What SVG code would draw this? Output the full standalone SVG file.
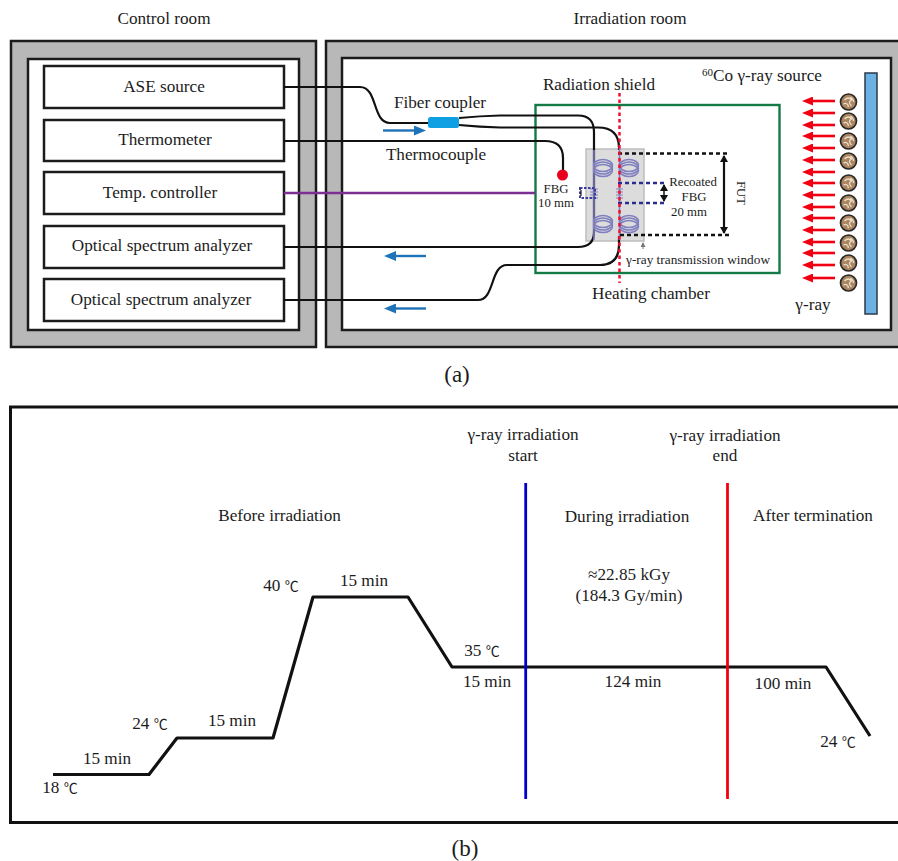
<svg xmlns="http://www.w3.org/2000/svg" width="898" height="861" viewBox="0 0 898 861" xmlns:xlink="http://www.w3.org/1999/xlink">
<style>
text{font-family:"Liberation Serif","Noto Sans CJK SC",serif;font-size:17.2px;fill:#1c1c1c;text-anchor:middle}
.s{font-size:12.8px}
.big{font-size:23px}
.deg{font-size:14px}
.wall{fill:#b7b8b7;stroke:#1c1c1c;stroke-width:2.5}
.inner{fill:#fff;stroke:#1c1c1c;stroke-width:2.5}
.box{fill:#fff;stroke:#1c1c1c;stroke-width:2.5}
.fiber{fill:none;stroke:#111;stroke-width:2.2}
.coil{fill:none;stroke:#8080c0;stroke-width:1.5}
.nd{fill:none;stroke:#2c2c90;stroke-width:2.4;stroke-dasharray:4 3}
.kd{fill:none;stroke:#111;stroke-width:2.4;stroke-dasharray:4 3}
.blue{stroke:#1f73b8;stroke-width:2.4;fill:none}
.ray{stroke:#f00012;stroke-width:2.6;fill:none}
.prof{fill:none;stroke:#111;stroke-width:3.2;stroke-linejoin:round}
</style>
<defs>
<marker id="bh" markerWidth="12" markerHeight="10" refX="1" refY="5" orient="auto" markerUnits="userSpaceOnUse"><path d="M0 0L12 5L0 10z" fill="#1f73b8"/></marker>
<marker id="rh" markerWidth="11" markerHeight="9" refX="1" refY="4.500" orient="auto" markerUnits="userSpaceOnUse"><path d="M0 0L11 4.500L0 9z" fill="#f00012"/></marker>
<marker id="ka" markerWidth="7" markerHeight="8" refX="6" refY="4" orient="auto-start-reverse" markerUnits="userSpaceOnUse"><path d="M0 0L7 4L0 8z" fill="#111"/></marker>
<marker id="ga" markerWidth="5" markerHeight="5" refX="4" refY="2.500" orient="auto" markerUnits="userSpaceOnUse"><path d="M0 0L5 2.500L0 5z" fill="#777"/></marker>
<g id="src"><circle r="8" fill="#ab855f" stroke="#2a2a2a" stroke-width="1.700"/><path d="M-4 -2Q0 -6 3 -2Q-1 0 3 4M-5 2Q-1 0 0 5M2 -5Q5 -3 5 0" fill="none" stroke="#eadfce" stroke-width="1.300"/></g>
<g id="coil"><ellipse cx="0" cy="-2.500" rx="9.500" ry="6" class="coil"/><ellipse cx="0" cy="0" rx="9.500" ry="6" class="coil"/><ellipse cx="0" cy="2.500" rx="9.500" ry="6" class="coil"/></g>
</defs>

<g id="control-room">
<rect class="wall" x="11" y="41" width="305" height="306"/>
<rect class="inner" x="28" y="59" width="271" height="271"/>
<text x="164" y="24">Control room</text>
</g>
<g id="irradiation-room">
<rect class="wall" x="326" y="41" width="590" height="306"/>
<rect class="inner" x="342" y="58" width="549" height="272"/>
<text x="630" y="24">Irradiation room</text>
</g>
<g id="ase-source"><rect class="box" x="44" y="66" width="240" height="42"/><text x="164" y="92">ASE source</text></g>
<g id="thermometer"><rect class="box" x="44" y="120" width="240" height="41"/><text x="165" y="145">Thermometer</text></g>
<g id="temp-controller"><rect class="box" x="44" y="172" width="240" height="42"/><text x="160" y="198">Temp. controller</text></g>
<g id="osa-1"><rect class="box" x="44" y="226" width="240" height="42"/><text x="162" y="251">Optical spectrum analyzer</text></g>
<g id="osa-2"><rect class="box" x="44" y="279" width="240" height="42"/><text x="161" y="305">Optical spectrum analyzer</text></g>

<g id="heating-chamber">
<rect x="535.500" y="105" width="244" height="168" fill="none" stroke="#137a45" stroke-width="2.400"/>
<text x="651" y="299">Heating chamber</text>
</g>
<g id="window">
<rect x="586" y="149" width="58" height="92" fill="#dcdcdc" stroke="#bdbdbd" stroke-width="1.500"/>
<text x="698" y="264" class="s" style="font-size:13.3px">γ-ray transmission window</text>
<path d="M643 249V243" stroke="#777" stroke-width="1" marker-end="url(#ga)"/>
</g>

<g id="connectors">
<path class="fiber" d="M284 87H360C378 87 372 123 390 123H430"/>
<path class="fiber" d="M284 141H545Q563 141 563 158V172"/>
<path class="fiber" d="M459 118Q480 116 500 115.500H578Q594 115.500 594 132V232Q594 247 578 247H360L284 247"/>
<path class="fiber" d="M459 125Q480 127 500 127.500H598Q619 127.500 619 148V150"/>
<path class="fiber" d="M284 300H478C495 300 490 265 507 265H600Q619 265 619 245V236"/>
<path d="M284 193H535" stroke="#7d2e92" stroke-width="2.400" fill="none"/>
<path class="blue" d="M383 130.500H415" marker-end="url(#bh)"/>
<path class="blue" d="M426 256H395" marker-end="url(#bh)"/>
<path class="blue" d="M426 308.500H395" marker-end="url(#bh)"/>
</g>

<g id="fiber-coupler">
<rect x="428" y="117" width="31" height="11" rx="2.500" fill="#0fa0e3"/>
<text x="440" y="108">Fiber coupler</text>
</g>
<g id="thermocouple">
<circle cx="562.500" cy="175" r="5.500" fill="#e8001c"/>
<text x="436" y="160">Thermocouple</text>
</g>
<g id="fut">
<path d="M594 150V240M619.500 148V240" stroke="#7e7ec2" stroke-width="1.600" fill="none"/>
<use xlink:href="#coil" href="#coil" x="603" y="168"/>
<use xlink:href="#coil" href="#coil" x="629" y="168"/>
<use xlink:href="#coil" href="#coil" x="603" y="224"/>
<use xlink:href="#coil" href="#coil" x="629" y="224"/>
<path d="M590 189H598M590 192H598M590 195H598M590 198H598M616 189H623M616 192H623M616 195H623M616 198H623" stroke="#8080c0" stroke-width="1"/>
<path class="kd" d="M618 153.500H730"/>
<path class="kd" d="M620 235H732"/>
<path d="M724 156V233" stroke="#111" stroke-width="2.200" marker-start="url(#ka)" marker-end="url(#ka)"/>
<text transform="translate(736.500 193) rotate(90)" class="s">FUT</text>
</g>
<g id="recoated-fbg">
<path class="nd" d="M618 183H666"/>
<path class="nd" d="M618 203H666"/>
<path d="M664 185V201" stroke="#111" stroke-width="1.500" marker-start="url(#ka)" marker-end="url(#ka)"/>
<text x="693" y="186" class="s">Recoated</text>
<text x="694" y="200.800" class="s">FBG</text>
<text x="689" y="215.600" class="s">20 mm</text>
</g>
<g id="fbg-10mm">
<rect x="580" y="188" width="15" height="10" fill="none" stroke="#3c3ca0" stroke-width="2" stroke-dasharray="2.500 1.500"/>
<path d="M581 190V196" stroke="#111" stroke-width="1.200"/>
<text x="556" y="192.500" class="s">FBG</text>
<text x="556" y="207.300" class="s">10 mm</text>
</g>
<g id="radiation-shield">
<path d="M619.500 93V283" stroke="#f01030" stroke-width="2.500" stroke-dasharray="3.500 3" fill="none"/>
<text x="599" y="90">Radiation shield</text>
</g>
<g id="gamma-source">
<rect x="865" y="73" width="12" height="241" fill="#6cb0e4" stroke="#2a3a48" stroke-width="1.500"/>
<text x="762" y="81"><tspan font-size="11" dy="-5">60</tspan><tspan dy="5">Co γ-ray source</tspan></text>
<text x="813" y="310">γ-ray</text>
<use xlink:href="#src" href="#src" x="848.500" y="102"/>
<use xlink:href="#src" href="#src" x="848.500" y="121"/>
<use xlink:href="#src" href="#src" x="848.500" y="141"/>
<use xlink:href="#src" href="#src" x="848.500" y="161"/>
<use xlink:href="#src" href="#src" x="848.500" y="183"/>
<use xlink:href="#src" href="#src" x="848.500" y="203"/>
<use xlink:href="#src" href="#src" x="848.500" y="223"/>
<use xlink:href="#src" href="#src" x="848.500" y="243"/>
<use xlink:href="#src" href="#src" x="848.500" y="263"/>
<use xlink:href="#src" href="#src" x="848.500" y="283"/>
<path class="ray" d="M835 101H812" marker-end="url(#rh)"/>
<path class="ray" d="M835 113H812" marker-end="url(#rh)"/>
<path class="ray" d="M835 125H812" marker-end="url(#rh)"/>
<path class="ray" d="M835 136H812" marker-end="url(#rh)"/>
<path class="ray" d="M835 148H812" marker-end="url(#rh)"/>
<path class="ray" d="M835 160H812" marker-end="url(#rh)"/>
<path class="ray" d="M835 172H812" marker-end="url(#rh)"/>
<path class="ray" d="M835 183H812" marker-end="url(#rh)"/>
<path class="ray" d="M835 195H812" marker-end="url(#rh)"/>
<path class="ray" d="M835 207H812" marker-end="url(#rh)"/>
<path class="ray" d="M835 218H812" marker-end="url(#rh)"/>
<path class="ray" d="M835 230H812" marker-end="url(#rh)"/>
<path class="ray" d="M835 242H812" marker-end="url(#rh)"/>
<path class="ray" d="M835 253H812" marker-end="url(#rh)"/>
<path class="ray" d="M835 265H812" marker-end="url(#rh)"/>
<path class="ray" d="M835 278H812" marker-end="url(#rh)"/>
</g>
<text x="457" y="382" class="big">(a)</text>

<g id="chart-frame">
<path d="M898 407H10.500V822.500H898" fill="none" stroke="#111" stroke-width="3"/>
</g>
<g id="profile">
<path class="prof" d="M53 774.500H149L177 738H273L313 597H408L452 667H826L870 736"/>
</g>
<g id="markers">
<path d="M525.700 483V799" stroke="#0000c8" stroke-width="2.800"/>
<path d="M727.500 483V799" stroke="#f4000c" stroke-width="2.800"/>
</g>
<g id="chart-labels">
<text x="279.500" y="521">Before irradiation</text>
<text x="523" y="440">γ-ray irradiation</text>
<text x="523" y="461">start</text>
<text x="725" y="441">γ-ray irradiation</text>
<text x="725" y="461">end</text>
<text x="627" y="522">During irradiation</text>
<text x="813" y="521">After termination</text>
<text x="629" y="580">≈22.85 kGy</text>
<text x="629" y="601">(184.3 Gy/min)</text>
<text x="107" y="764">15 min</text>
<text x="232" y="726">15 min</text>
<text x="364" y="586">15 min</text>
<text x="487" y="687">15 min</text>
<text x="633" y="687">124 min</text>
<text x="783" y="689">100 min</text>
<text x="60" y="793">18 <tspan class="deg">℃</tspan></text>
<text x="150" y="729">24 <tspan class="deg">℃</tspan></text>
<text x="281" y="591">40 <tspan class="deg">℃</tspan></text>
<text x="482" y="656">35 <tspan class="deg">℃</tspan></text>
<text x="838" y="747">24 <tspan class="deg">℃</tspan></text>
</g>
<text x="465" y="856" class="big">(b)</text>
</svg>
